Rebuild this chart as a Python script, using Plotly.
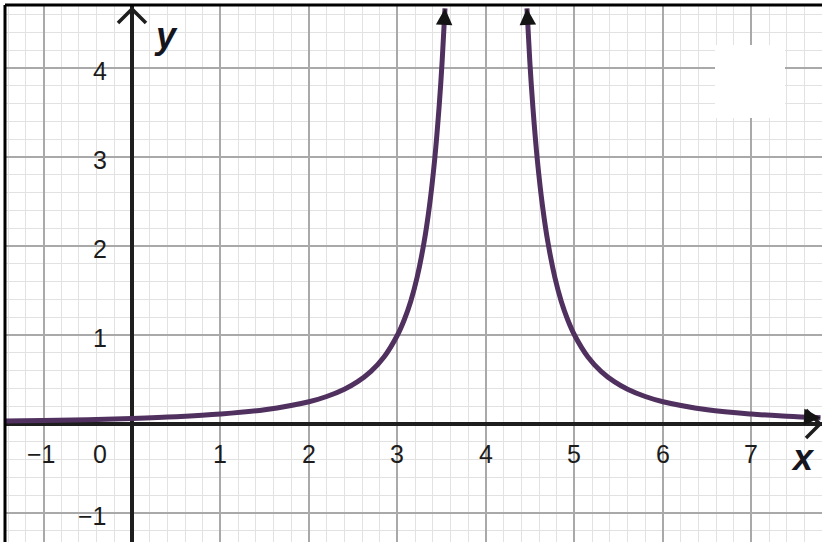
import math
import plotly.graph_objects as go

# Branch of the curve left of the asymptote x = 4
left_x = [-1.44, -1.0, -0.5, 0.0, 0.5, 1.0, 1.5, 2.0, 2.2, 2.4, 2.55, 2.7, 2.85, 3.0,
          3.08, 3.15, 3.22, 3.3, 3.36, 3.42, 3.47, 3.505, 3.537]
left_y = [0.034, 0.040, 0.049, 0.063, 0.082, 0.111, 0.160, 0.250, 0.309, 0.391, 0.476, 0.592, 0.756, 1.00,
          1.18, 1.38, 1.64, 2.04, 2.44, 2.97, 3.56, 4.08, 4.67]
# Branch right of the asymptote
right_x = [4.463, 4.495, 4.53, 4.58, 4.64, 4.7, 4.78, 4.85, 4.92, 5.0, 5.15, 5.3, 5.45,
           5.6, 5.8, 6.0, 6.5, 7.0, 7.4, 7.78]
right_y = [4.67, 4.08, 3.56, 2.97, 2.44, 2.04, 1.64, 1.38, 1.18, 1.0, 0.756, 0.592, 0.476,
           0.391, 0.309, 0.25, 0.16, 0.111, 0.087, 0.070]

x_tick_vals = [-1, 1, 2, 3, 4, 5, 6, 7]
x_tick_text = ["\u22121", "1", "2", "3", "4", "5", "6", "7"]
y_tick_vals = [-1, 1, 2, 3, 4]
y_tick_text = ["\u22121", "1", "2", "3", "4"]

W, H = 826, 542
ML, MR, MT, MB = 5, 4, 5, 0
X_RANGE = [-1.435, 7.797]
Y_RANGE = [-1.326, 4.708]

px_x = (W - ML - MR) / (X_RANGE[1] - X_RANGE[0])
px_y = (H - MT - MB) / (Y_RANGE[1] - Y_RANGE[0])

CURVE = "#50305e"
AXIS = "#1e1e1e"
FONT = "Liberation Sans, Arial, sans-serif"
LABEL = dict(family=FONT, size=25, color="#1c1c1c")

fig = go.Figure()
for bx, by in ((left_x, left_y), (right_x, right_y)):
    fig.add_trace(go.Scatter(
        x=bx, y=by, mode="lines",
        line=dict(color=CURVE, width=5, shape="spline", smoothing=1.0),
        hoverinfo="skip", showlegend=False,
    ))

annotations = []

# Arrowheads at the ends of the curve
def end_arrow(xs, ys, at_end=True):
    if at_end:
        (x0, y0), (x1, y1) = (xs[-2], ys[-2]), (xs[-1], ys[-1])
    else:
        (x0, y0), (x1, y1) = (xs[1], ys[1]), (xs[0], ys[0])
    dxp = (x1 - x0) * px_x
    dyp = (y1 - y0) * px_y
    n = math.hypot(dxp, dyp)
    L = 14
    annotations.append(dict(
        x=x1, y=y1, xref="x", yref="y", text="", showarrow=True,
        ax=-dxp / n * L, ay=dyp / n * L,
        arrowhead=2, arrowsize=1.1, arrowwidth=3, arrowcolor="#141414",
    ))

end_arrow(left_x, left_y, at_end=True)
end_arrow(right_x, right_y, at_end=False)
end_arrow(right_x, right_y, at_end=True)

# Tick labels placed along the axes
for v, t in zip(x_tick_vals, x_tick_text):
    annotations.append(dict(
        x=v, y=0, xref="x", yref="y", text=t, showarrow=False,
        xanchor="center", yanchor="middle", yshift=-30,
        xshift=-2 if v < 0 else 0, font=LABEL,
    ))
annotations.append(dict(
    x=0, y=0, xref="x", yref="y", text="0", showarrow=False,
    xanchor="right", yanchor="middle", xshift=-23, yshift=-30, font=LABEL,
))
for v, t in zip(y_tick_vals, y_tick_text):
    annotations.append(dict(
        x=0, y=v, xref="x", yref="y", text=t, showarrow=False,
        xanchor="right", yanchor="middle", xshift=-23, yshift=-3, font=LABEL,
    ))

# Axis names
annotations.append(dict(
    x=7.58, y=0, xref="x", yref="y", text="<b><i>x</i></b>", showarrow=False,
    xanchor="center", yanchor="middle", yshift=-34,
    font=dict(family=FONT, size=36, color="#151520"),
))
annotations.append(dict(
    x=0, y=4.36, xref="x", yref="y", text="<b><i>y</i></b>", showarrow=False,
    xanchor="center", yanchor="middle", xshift=34,
    font=dict(family=FONT, size=36, color="#151520"),
))

shapes = []
# Open chevrons at the positive ends of the axes
ch = 14
y_tip = Y_RANGE[1] - 4 / px_y
shapes.append(dict(
    type="path", xref="x", yref="y", layer="above",
    path=f"M {-ch/px_x} {y_tip - ch/px_y} L 0 {y_tip} L {ch/px_x} {y_tip - ch/px_y}",
    line=dict(color=AXIS, width=3.5),
))
x_tip = X_RANGE[1] - 2 / px_x
shapes.append(dict(
    type="path", xref="x", yref="y", layer="above",
    path=f"M {x_tip - ch/px_x} {ch/px_y} L {x_tip} 0 L {x_tip - ch/px_x} {-ch/px_y}",
    line=dict(color=AXIS, width=3.5),
))
# Blank panel in the upper right
shapes.append(dict(
    type="rect", xref="paper", yref="paper", layer="above",
    x0=(715 - ML) / (W - ML - MR), x1=(785 - ML) / (W - ML - MR),
    y0=1 - (118 - MT) / (H - MT - MB), y1=1 - (45 - MT) / (H - MT - MB),
    fillcolor="white", line=dict(width=0),
))
# Frame on the top and left edges
shapes.append(dict(type="line", xref="paper", yref="paper", x0=0, x1=0, y0=0, y1=1,
                   line=dict(color="black", width=3), layer="above"))
shapes.append(dict(type="line", xref="paper", yref="paper", x0=0, x1=1, y0=1, y1=1,
                   line=dict(color="black", width=3), layer="above"))

axis_common = dict(
    showgrid=True, gridcolor="#a9a9a9", gridwidth=1.6,
    zeroline=True, zerolinecolor=AXIS, zerolinewidth=3.5,
    showticklabels=False, ticks="", showline=False, fixedrange=True,
    dtick=1, tick0=0,
    minor=dict(dtick=0.2, tick0=0, showgrid=True, gridcolor="#e2e2e2", gridwidth=1),
)

fig.update_layout(
    width=W, height=H,
    margin=dict(l=ML, r=MR, t=MT, b=MB),
    paper_bgcolor="white", plot_bgcolor="white",
    xaxis=dict(range=X_RANGE, **axis_common),
    yaxis=dict(range=Y_RANGE, **axis_common),
    annotations=annotations, shapes=shapes,
    showlegend=False,
)

fig.write_html("out.html", config=dict(displayModeBar=False))
